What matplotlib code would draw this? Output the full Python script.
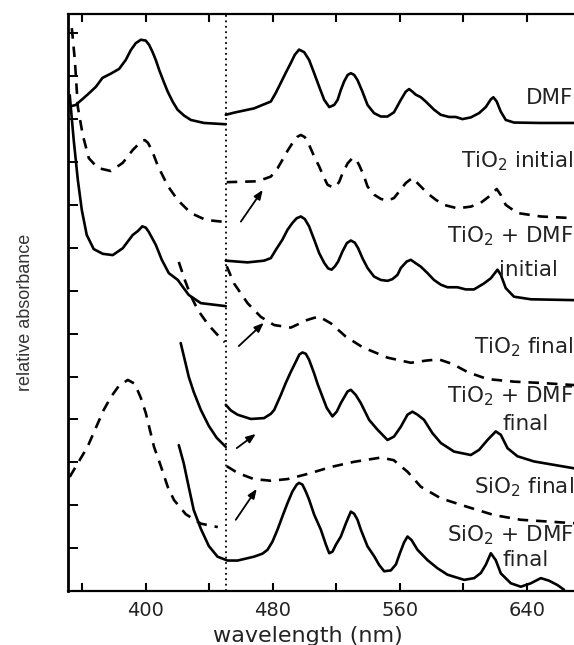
import matplotlib
matplotlib.use("Agg")
import matplotlib.pyplot as plt
from matplotlib.ticker import FixedLocator

# ---------------- data (wavelength in nm, relative absorbance with vertical offsets) ----------------
dmf_left_nm = [353.8, 355.9, 363.3, 368.5, 372.7, 378.0, 383.2, 387.4, 390.6, 393.7, 396.9, 400.0, 402.1,
               404.2, 406.3, 408.4, 411.2, 413.7, 416.9, 420.0, 424.2, 428.4, 436.7, 450.4]
dmf_left_a = [11.31, 11.33, 11.57, 11.75, 11.96, 12.06, 12.17, 12.38, 12.61, 12.77, 12.85, 12.83, 12.73,
              12.57, 12.38, 12.15, 11.88, 11.65, 11.41, 11.22, 11.08, 10.98, 10.91, 10.88]
dmf_right_nm = [450.4, 455.6, 468.2, 478.8, 481.9, 485.0, 488.2, 491.4, 493.9, 496.6, 499.8, 502.9, 506.1,
                509.2, 512.4, 515.6, 518.7, 520.9, 522.9, 525.0, 527.2, 529.2, 531.3, 533.4, 536.5, 539.7,
                543.8, 548.1, 552.3, 556.4, 560.7, 563.8, 565.9, 568.0, 570.1, 573.3, 576.4, 581.6, 585.9,
                591.1, 595.3, 599.5, 604.8, 610.0, 614.2, 617.4, 619.0, 621.1, 623.6, 626.8, 632.0, 648.8,
                669.8]
dmf_right_a = [11.10, 11.15, 11.25, 11.41, 11.61, 11.84, 12.08, 12.31, 12.50, 12.62, 12.56, 12.38, 12.07,
               11.76, 11.45, 11.28, 11.33, 11.45, 11.68, 11.88, 12.03, 12.07, 12.03, 11.91, 11.64, 11.33,
               11.14, 11.06, 11.06, 11.16, 11.45, 11.64, 11.70, 11.64, 11.57, 11.51, 11.41, 11.22, 11.10,
               11.05, 11.05, 11.00, 11.04, 11.14, 11.28, 11.46, 11.51, 11.41, 11.18, 10.98, 10.92, 10.91,
               10.91]

tio2_init_left_nm = [353.4, 355.3, 357.2, 360.3, 364.1, 369.8, 378.0, 385.5, 391.8, 395.0, 397.5, 399.4,
                     401.3, 403.8, 407.6, 413.9, 420.2, 428.4, 437.8, 450.4]
tio2_init_left_a = [13.12, 12.38, 11.28, 10.63, 10.09, 9.86, 9.79, 9.98, 10.28, 10.40, 10.49, 10.51,
                    10.45, 10.28, 9.91, 9.44, 9.11, 8.81, 8.65, 8.60]
tio2_init_right_nm = [451.0, 470.4, 478.8, 483.0, 486.1, 489.3, 492.4, 495.6, 497.7, 500.2, 502.9, 506.1,
                      509.2, 512.4, 514.5, 517.7, 519.8, 521.9, 524.0, 527.2, 530.2, 532.3, 534.4, 537.2,
                      539.7, 543.8, 548.1, 552.3, 556.4, 559.6, 563.8, 568.0, 572.2, 577.5, 582.7, 587.9,
                      596.4, 604.8, 611.1, 616.4, 621.1, 623.7, 626.8, 634.2, 648.9, 669.8]
tio2_init_right_a = [9.53, 9.55, 9.66, 9.85, 10.05, 10.26, 10.44, 10.59, 10.63, 10.58, 10.40, 10.13,
                     9.90, 9.63, 9.47, 9.41, 9.43, 9.54, 9.74, 9.97, 10.09, 10.07, 9.93, 9.70,
                     9.43, 9.24, 9.14, 9.10, 9.16, 9.31, 9.51, 9.63, 9.47, 9.27, 9.12, 9.00,
                     8.92, 8.96, 9.05, 9.20, 9.37, 9.23, 9.00, 8.81, 8.73, 8.69]

tio2_dmf_init_left_nm = [352.1, 354.6, 357.2, 359.7, 362.8, 367.2, 372.9, 379.2, 385.5, 391.8, 395.0,
                         397.8, 400.0, 401.9, 406.3, 410.1, 414.5, 420.2, 423.3, 427.1, 434.7, 450.4]
tio2_dmf_init_left_a = [11.56, 10.51, 9.58, 8.88, 8.30, 7.97, 7.86, 7.83, 7.99, 8.30, 8.39,
                        8.50, 8.47, 8.37, 8.07, 7.72, 7.41, 7.25, 7.09, 6.90, 6.71, 6.64]
tio2_dmf_init_right_nm = [450.4, 464.1, 474.5, 478.8, 481.9, 486.1, 489.3, 492.4, 495.1, 497.7, 500.2,
                          502.9, 506.1, 509.2, 512.4, 514.9, 517.1, 519.2, 521.2, 524.0, 526.7, 529.2,
                          531.7, 533.8, 536.5, 539.7, 543.8, 548.1, 552.3, 555.4, 558.6, 560.7, 564.4,
                          567.0, 570.1, 573.3, 577.5, 581.6, 585.9, 590.1, 596.4, 601.6, 606.8, 613.1,
                          617.4, 621.6, 623.7, 626.8, 632.0, 642.6, 669.8]
tio2_dmf_init_right_a = [7.70, 7.66, 7.70, 7.76, 7.95, 8.19, 8.42, 8.58, 8.69, 8.73, 8.67,
                         8.50, 8.19, 7.88, 7.65, 7.52, 7.49, 7.57, 7.68, 7.92, 8.11, 8.17,
                         8.12, 7.99, 7.76, 7.53, 7.33, 7.25, 7.23, 7.27, 7.37, 7.53, 7.68,
                         7.72, 7.64, 7.56, 7.41, 7.25, 7.14, 7.08, 7.08, 7.03, 7.03, 7.17,
                         7.29, 7.49, 7.37, 7.06, 6.86, 6.80, 6.78]

tio2_final_left_nm = [420.8, 424.6, 428.4, 432.8, 439.1, 444.7, 449.8]
tio2_final_left_a = [7.67, 7.25, 6.88, 6.55, 6.22, 5.99, 5.80]
tio2_final_right_nm = [451.0, 455.6, 464.1, 472.5, 480.8, 491.4, 501.9, 509.0, 516.6, 526.0, 536.7,
                       552.3, 567.0, 576.4, 584.6, 593.4, 602.9, 615.3, 632.0, 648.9, 669.8]
tio2_final_right_a = [7.57, 7.17, 6.71, 6.39, 6.20, 6.14, 6.32, 6.40, 6.24, 5.93, 5.68,
                      5.44, 5.32, 5.37, 5.40, 5.29, 5.10, 4.94, 4.88, 4.85, 4.80]

tio2_dmf_final_left_nm = [422.0, 424.6, 427.1, 430.2, 434.7, 439.7, 444.7, 450.4]
tio2_dmf_final_left_a = [5.78, 5.38, 4.99, 4.64, 4.22, 3.85, 3.57, 3.36]
tio2_dmf_final_right_nm = [450.4, 453.6, 457.8, 466.2, 474.5, 478.8, 480.9, 485.1, 488.2, 491.4, 494.5,
                           496.7, 498.7, 500.8, 502.9, 506.0, 508.4, 511.3, 514.0, 517.6, 520.3, 522.9,
                           527.1, 529.2, 532.3, 535.5, 540.7, 546.0, 552.3, 556.4, 560.7, 564.9, 568.0,
                           571.2, 575.3, 580.6, 585.9, 594.2, 604.8, 610.0, 615.3, 620.5, 623.7, 627.9,
                           634.2, 644.6, 669.8]
tio2_dmf_final_right_a = [4.34, 4.21, 4.11, 4.01, 4.03, 4.13, 4.22, 4.57, 4.85, 5.11, 5.34,
                          5.51, 5.56, 5.53, 5.39, 5.08, 4.81, 4.53, 4.27, 4.07, 4.18, 4.38,
                          4.65, 4.69, 4.57, 4.38, 3.99, 3.76, 3.52, 3.60, 3.83, 4.11, 4.18,
                          4.11, 3.99, 3.68, 3.45, 3.25, 3.17, 3.29, 3.52, 3.72, 3.64, 3.33,
                          3.14, 3.02, 2.86]

sio2_final_left_nm = [352.1, 357.2, 363.3, 368.5, 373.5, 378.0, 383.0, 388.7, 393.1, 396.9, 400.0,
                      405.2, 409.5, 413.9, 417.8, 425.2, 434.7, 445.4]
sio2_final_left_a = [2.66, 2.98, 3.36, 3.80, 4.22, 4.52, 4.78, 4.92, 4.83, 4.50, 4.15,
                     3.36, 2.91, 2.42, 2.12, 1.79, 1.57, 1.49]
sio2_final_right_nm = [451.0, 458.0, 468.0, 478.8, 489.5, 502.1, 516.6, 531.0, 548.1, 556.2, 564.9,
                       573.3, 585.9, 602.7, 619.4, 636.3, 669.8]
sio2_final_right_a = [2.91, 2.75, 2.61, 2.57, 2.61, 2.73, 2.89, 3.01, 3.11, 3.05, 2.78,
                      2.43, 2.16, 1.96, 1.77, 1.66, 1.58]

sio2_dmf_final_nm = [420.8, 423.9, 427.1, 430.2, 434.7, 439.7, 445.2, 451.5, 457.8, 468.2, 473.5, 476.7,
                     479.8, 483.0, 486.1, 489.3, 492.4, 495.1, 496.6, 498.7, 500.8, 502.9, 506.1, 510.3,
                     513.5, 515.6, 517.7, 519.8, 522.9, 526.1, 529.2, 531.3, 533.4, 535.5, 539.7, 543.9,
                     547.0, 550.2, 554.4, 557.6, 560.3, 562.7, 564.9, 567.4, 571.2, 577.5, 583.8, 590.1,
                     600.6, 606.9, 611.1, 614.2, 617.4, 620.5, 623.7, 630.0, 636.3, 642.6, 648.9, 654.1,
                     659.3, 663.5]
sio2_dmf_final_a = [3.40, 2.98, 2.42, 1.89, 1.45, 1.05, 0.80, 0.71, 0.71, 0.80, 0.87, 0.96,
                    1.15, 1.43, 1.74, 2.05, 2.32, 2.48, 2.52, 2.48, 2.32, 2.13, 1.78, 1.43,
                    1.08, 0.88, 0.92, 1.08, 1.27, 1.58, 1.85, 1.80, 1.66, 1.43, 1.04, 0.81,
                    0.61, 0.46, 0.48, 0.62, 0.90, 1.13, 1.27, 1.19, 0.96, 0.72, 0.53, 0.38,
                    0.26, 0.30, 0.42, 0.61, 0.88, 0.72, 0.41, 0.18, 0.10, 0.18, 0.30, 0.24,
                    0.14, 0.03]

arrow_tail_nm = [459.9, 458.6, 457.3, 456.7]
arrow_tail_a = [8.61, 5.71, 3.33, 1.66]
arrow_head_nm = [473.7, 474.3, 469.3, 469.9]
arrow_head_a = [9.35, 6.25, 3.66, 2.38]

split_nm = 450.4

label_texts = ['DMF', 'TiO$_2$ initial', 'TiO$_2$ + DMF', 'TiO$_2$ final', 'TiO$_2$ + DMF',
               'SiO$_2$ final', 'SiO$_2$ + DMF']
label_a = [11.50, 10.03, 8.26, 5.69, 4.53, 2.41, 1.29]
sub_texts = ['initial', 'final', 'final']
sub_nm = [641.0, 639.4, 639.1]
sub_a = [7.49, 3.90, 0.73]

x_major = [400, 480, 560, 640]
x_minor = [360, 440, 520, 600]
y_ticks = list(range(1, 14))

# ---------------- figure ----------------
W, H = 574, 645
fig = plt.figure(figsize=(W / 100, H / 100), dpi=100)
ax = fig.add_axes([68 / W, 54 / H, 506 / W, 577 / H])
ax.set_xlim(351, 669.8)
ax.set_ylim(0, 13.45)

solid = dict(color='black', lw=1.9, solid_joinstyle='round', solid_capstyle='round')
dashed = dict(color='black', lw=1.9, linestyle=(0, (4, 3)), dash_joinstyle='round')

ax.plot(dmf_left_nm, dmf_left_a, **solid)
ax.plot(dmf_right_nm, dmf_right_a, **solid)
ax.plot(tio2_init_left_nm, tio2_init_left_a, **dashed)
ax.plot(tio2_init_right_nm, tio2_init_right_a, **dashed)
ax.plot(tio2_dmf_init_left_nm, tio2_dmf_init_left_a, **solid)
ax.plot(tio2_dmf_init_right_nm, tio2_dmf_init_right_a, **solid)
ax.plot(tio2_final_left_nm, tio2_final_left_a, **dashed)
ax.plot(tio2_final_right_nm, tio2_final_right_a, **dashed)
ax.plot(tio2_dmf_final_left_nm, tio2_dmf_final_left_a, **solid)
ax.plot(tio2_dmf_final_right_nm, tio2_dmf_final_right_a, **solid)
ax.plot(sio2_final_left_nm, sio2_final_left_a, **dashed)
ax.plot(sio2_final_right_nm, sio2_final_right_a, **dashed)
ax.plot(sio2_dmf_final_nm, sio2_dmf_final_a, **solid)

ax.axvline(split_nm, color='black', lw=1.3, linestyle=(0, (1, 2)))

for xt, yt, xh, yh in zip(arrow_tail_nm, arrow_tail_a, arrow_head_nm, arrow_head_a):
    ax.annotate('', xy=(xh, yh), xytext=(xt, yt),
                arrowprops=dict(arrowstyle='-|>,head_length=0.55,head_width=0.22',
                                color='black', lw=1.3, shrinkA=0, shrinkB=0))

txt_kw = dict(fontsize=15.5, color='#222222', family='DejaVu Sans', va='center')
for t, y in zip(label_texts, label_a):
    ax.text(669.5, y, t, ha='right', **txt_kw)
for t, x, y in zip(sub_texts, sub_nm, sub_a):
    ax.text(x, y, t, ha='center', **txt_kw)

# axes styling
ax.spines['right'].set_visible(False)
ax.spines['left'].set_linewidth(2.0)
ax.spines['bottom'].set_linewidth(1.6)
ax.spines['top'].set_linewidth(1.6)
ax.xaxis.set_major_locator(FixedLocator(x_major))
ax.xaxis.set_minor_locator(FixedLocator(x_minor))
ax.yaxis.set_major_locator(FixedLocator(y_ticks))
ax.set_yticklabels([])
ax.tick_params(axis='x', which='both', direction='in', top=True, bottom=True,
               length=5.5, width=1.5, labelsize=14, labelcolor='#222222', pad=7)
ax.tick_params(axis='y', which='major', direction='in', left=True, right=False,
               length=7, width=1.4)

fig.text(307.5 / W, 1 - 642 / H, 'wavelength (nm)', ha='center', va='baseline',
         fontsize=16, color='#222222', family='DejaVu Sans')
fig.text(26 / W, 1 - 312 / H, 'relative absorbance', rotation=90, ha='center', va='center',
         fontsize=13, color='#333333', family='Liberation Sans')

fig.savefig('out.png', dpi=100, facecolor='white')
